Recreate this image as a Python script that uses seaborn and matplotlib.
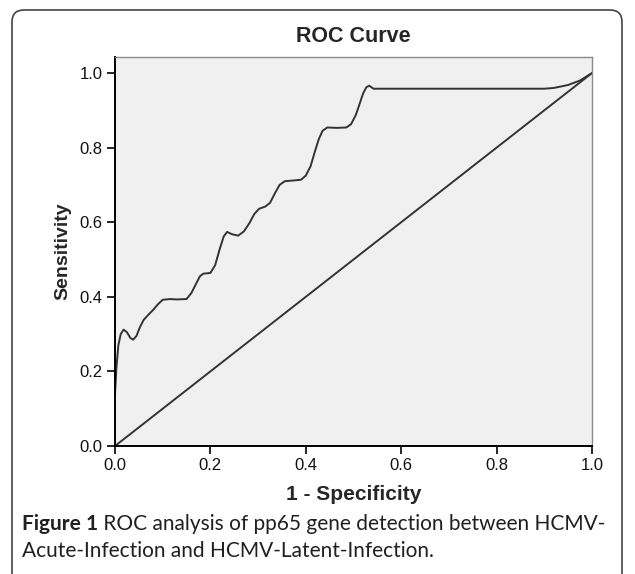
import pandas as pd
import seaborn as sns
import matplotlib.pyplot as plt
from matplotlib.patches import FancyBboxPatch

# ROC curve points (1 - specificity, sensitivity)
fpr = [0.000, 0.003, 0.007, 0.012, 0.018, 0.025, 0.032, 0.038, 0.045, 0.052,
       0.060, 0.070, 0.080, 0.090, 0.100, 0.115, 0.130, 0.150, 0.160, 0.170,
       0.178, 0.185, 0.200, 0.210, 0.220, 0.228, 0.235, 0.245, 0.258, 0.270,
       0.282, 0.292, 0.302, 0.315, 0.325, 0.335, 0.345, 0.356, 0.375, 0.390,
       0.400, 0.410, 0.418, 0.427, 0.435, 0.445, 0.465, 0.485, 0.495, 0.505,
       0.513, 0.520, 0.527, 0.533, 0.542, 0.555, 0.700, 0.900, 0.920, 0.950,
       0.975, 1.000]
tpr = [0.140, 0.210, 0.270, 0.300, 0.312, 0.305, 0.290, 0.285, 0.295, 0.318,
       0.338, 0.352, 0.365, 0.380, 0.392, 0.394, 0.393, 0.394, 0.410, 0.435,
       0.455, 0.462, 0.464, 0.485, 0.530, 0.562, 0.574, 0.568, 0.564, 0.575,
       0.598, 0.622, 0.636, 0.642, 0.652, 0.677, 0.700, 0.710, 0.712, 0.714,
       0.725, 0.750, 0.785, 0.822, 0.845, 0.854, 0.853, 0.854, 0.863, 0.888,
       0.918, 0.945, 0.962, 0.966, 0.958, 0.958, 0.958, 0.958, 0.960, 0.968,
       0.980, 1.000]
# reference line
ref_x = [0.0, 1.0]
ref_y = [0.0, 1.0]
ticks = [0.0, 0.2, 0.4, 0.6, 0.8, 1.0]

title = "ROC Curve"
xlab = "1 - Specificity"
ylab = "Sensitivity"
cap_bold = "Figure 1"
cap_line1 = " ROC analysis of pp65 gene detection between HCMV-"
cap_line2 = "Acute-Infection and HCMV-Latent-Infection."

df = pd.DataFrame({"fpr": fpr, "tpr": tpr})
df_ref = pd.DataFrame({"x": ref_x, "y": ref_y})

sns.set_style("white")
plt.rcParams['font.family'] = ['Liberation Sans', 'DejaVu Sans']

fig = plt.figure(figsize=(6.35, 5.74), dpi=100)
ax = fig.add_axes([115/635, 1-446/574, (592-115)/635, (446-57)/574])
ax.set_facecolor("#f0f0f0")

sns.lineplot(data=df, x="fpr", y="tpr", sort=False, color="#333333", lw=1.4, ax=ax)
sns.lineplot(data=df_ref, x="x", y="y", sort=False, color="#333333", lw=1.4, ax=ax)

ax.set_xlim(0, 1.0)
ax.set_ylim(0, 1.043)
ax.set_xticks(ticks)
ax.set_yticks(ticks)
ax.set_xticklabels([f"{t:.1f}" for t in ticks])
ax.set_yticklabels([f"{t:.1f}" for t in ticks])
ax.tick_params(direction="out", length=6, width=1.2, color="black",
               labelsize=12, labelcolor="#111111", pad=3, bottom=True, left=True)

for s in ["top", "right"]:
    ax.spines[s].set_color("#8a8a8a")
    ax.spines[s].set_linewidth(1.0)
for s in ["left", "bottom"]:
    ax.spines[s].set_color("black")
    ax.spines[s].set_linewidth(1.4)

ax.set_xlabel(xlab, fontsize=15, fontweight="bold", labelpad=8)
ax.set_ylabel(ylab, fontsize=14, fontweight="bold", labelpad=6,
              family=['Liberation Sans Narrow', 'Liberation Sans', 'DejaVu Sans'])
fig.text((115+592)/2/635, 1-37/574, title, fontsize=15.5, fontweight="bold",
         ha="center", va="center")

# caption, bold "Figure 1" followed by regular text
cap_font = ['Lato', 'DejaVu Sans']
t1 = fig.text(22/635, 1-524/574, cap_bold, fontsize=15, fontweight="bold",
              family=cap_font, va="center", color="#231f20")
fig.canvas.draw()
bb = t1.get_window_extent()
fig.text(bb.x1/635, 1-524/574, cap_line1, fontsize=15, family=cap_font,
         va="center", color="#231f20")
fig.text(22/635, 1-551/574, cap_line2, fontsize=15, family=cap_font,
         va="center", color="#231f20")

# rounded frame around the figure, open at the bottom edge
frame = FancyBboxPatch((12, -30), 610, 574 - 10 + 30,
                       boxstyle="round,pad=0,rounding_size=12",
                       transform=None, fill=False, edgecolor="#444444", lw=1.2)
fig.patches.append(frame)

fig.savefig("out.png", dpi=100)
